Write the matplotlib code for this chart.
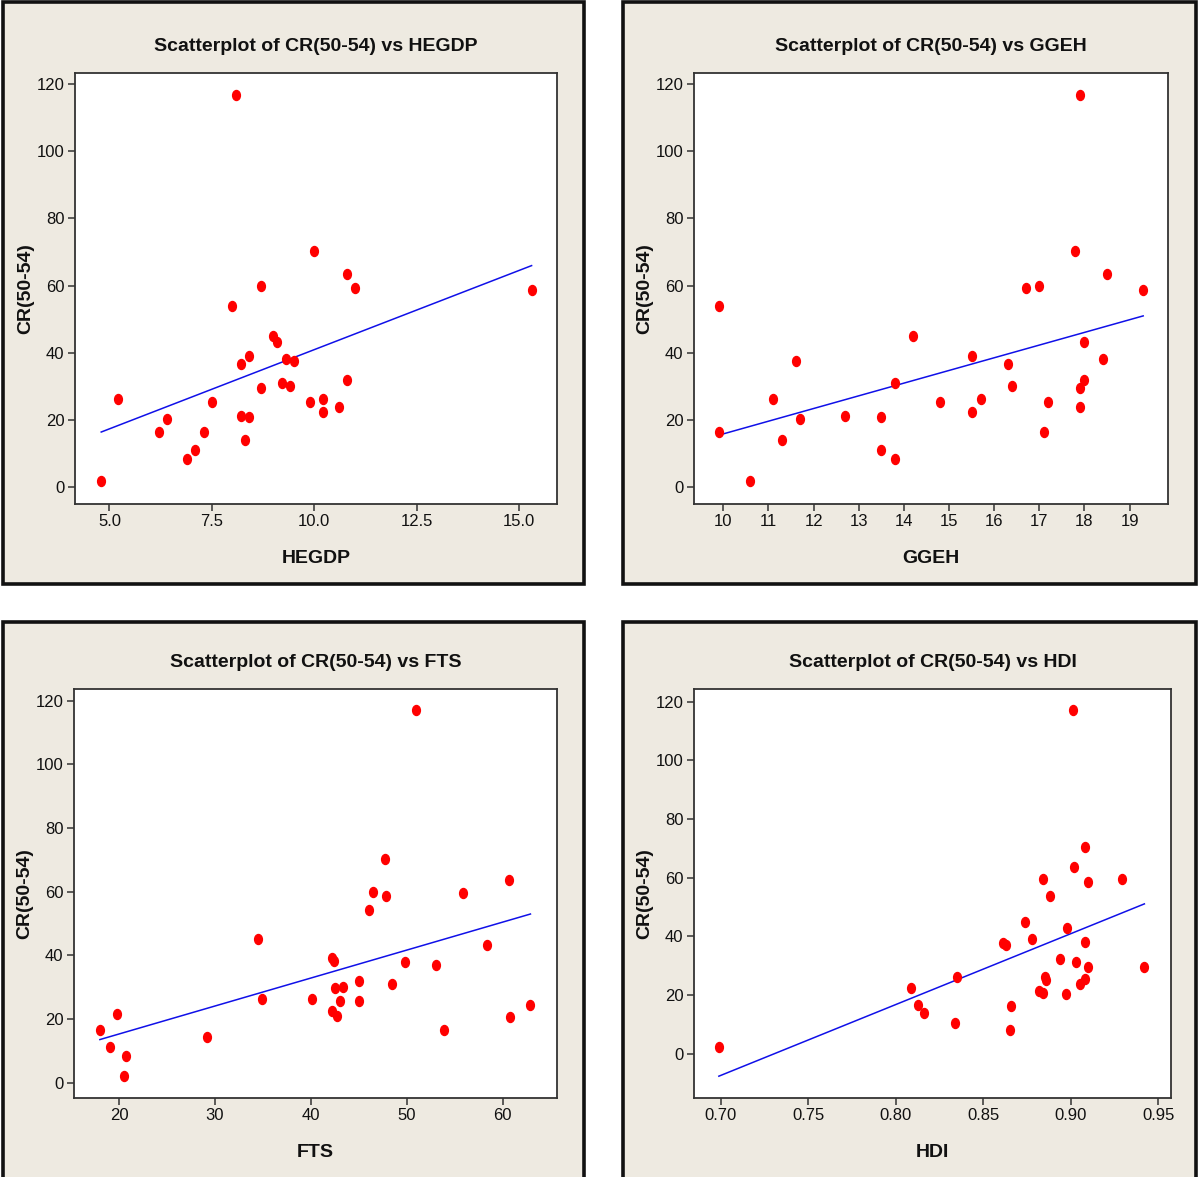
import numpy as np
import matplotlib
matplotlib.use("Agg")
import matplotlib.pyplot as plt
from matplotlib.patches import Rectangle
from matplotlib.path import Path
from matplotlib.transforms import Affine2D

plt.rcParams['font.family'] = ['Liberation Sans', 'DejaVu Sans']

# ---------------- data ----------------
hegdp_x = [8.1, 10.0, 10.8, 11.0, 15.3, 8.7, 8.0, 9.0, 9.1, 8.4, 8.2, 9.3, 9.5, 8.7, 9.2, 9.4,
           10.8, 5.2, 7.5, 9.9, 10.2, 10.2, 10.6, 8.2, 8.4, 6.4, 6.2, 7.3, 8.3, 7.1, 6.9, 4.8]
hegdp_y = [116.8, 70.4, 63.5, 59.3, 58.6, 59.9, 53.9, 45.1, 43.1, 39.1, 36.7, 38.2, 37.7, 29.5, 31.0, 30.0,
           31.8, 26.3, 25.5, 25.5, 26.3, 22.3, 24.0, 21.3, 20.8, 20.4, 16.5, 16.5, 14.1, 11.0, 8.3, 1.9]

ggeh_x = [17.9, 17.8, 18.5, 19.3, 16.7, 17.0, 9.9, 14.2, 18.0, 15.5, 11.6, 18.4, 16.3, 13.8, 16.4, 18.0,
          17.9, 11.1, 15.7, 14.8, 17.2, 15.5, 17.9, 12.7, 13.5, 11.7, 9.9, 17.1, 11.3, 13.5, 13.8, 10.6]
ggeh_y = [116.8, 70.4, 63.5, 58.6, 59.4, 59.9, 54.0, 45.0, 43.1, 39.1, 37.7, 38.1, 36.7, 31.0, 30.0, 31.8,
          29.5, 26.3, 26.3, 25.5, 25.5, 22.3, 24.0, 21.3, 20.9, 20.4, 16.5, 16.5, 14.1, 11.0, 8.3, 1.9]

fts_x = [51.0, 47.7, 60.7, 46.5, 47.8, 55.9, 46.1, 34.5, 58.4, 42.2, 42.4, 49.8, 53.1, 45.0, 48.5, 42.5,
         43.4, 34.9, 40.1, 43.0, 45.0, 62.9, 42.2, 42.7, 19.8, 60.8, 18.0, 53.9, 29.2, 19.1, 20.7, 20.5]
fts_y = [117.1, 70.4, 63.7, 60.0, 58.6, 59.6, 54.2, 45.1, 43.2, 39.3, 38.2, 37.8, 36.9, 31.9, 31.0, 29.7,
         30.1, 26.4, 26.4, 25.6, 25.6, 24.3, 22.6, 21.0, 21.5, 20.6, 16.6, 16.6, 14.3, 11.1, 8.4, 2.1]

hdi_x = [0.901, 0.908, 0.902, 0.884, 0.929, 0.910, 0.888, 0.874, 0.898, 0.878, 0.861, 0.863, 0.908, 0.894,
         0.903, 0.910, 0.942, 0.835, 0.885, 0.886, 0.908, 0.905, 0.809, 0.882, 0.884, 0.897, 0.813, 0.866,
         0.816, 0.834, 0.865, 0.699]
hdi_y = [117.2, 70.5, 63.6, 59.7, 59.7, 58.6, 53.7, 44.9, 42.9, 39.1, 37.7, 37.1, 38.0, 32.2,
         31.1, 29.7, 29.7, 26.3, 26.3, 25.2, 25.3, 23.8, 22.3, 21.4, 20.8, 20.4, 16.5, 16.4,
         13.9, 10.5, 8.1, 2.2]

y_ticks = [0, 20, 40, 60, 80, 100, 120]
hegdp_ticks = [5.0, 7.5, 10.0, 12.5, 15.0]
hegdp_ticklabels = ["5.0", "7.5", "10.0", "12.5", "15.0"]
ggeh_ticks = list(range(10, 20))
fts_ticks = [20, 30, 40, 50, 60]
hdi_ticks = [0.70, 0.75, 0.80, 0.85, 0.90, 0.95]
hdi_ticklabels = ["0.70", "0.75", "0.80", "0.85", "0.90", "0.95"]

panels = [
    dict(name="HEGDP", x=hegdp_x, y=hegdp_y, xt=hegdp_ticks, xtl=hegdp_ticklabels,
         xlim=(4.16, 15.92), ylim=(-5.0, 123.3), ax_px=(75, 73, 557, 504)),
    dict(name="GGEH", x=ggeh_x, y=ggeh_y, xt=ggeh_ticks, xtl=[str(t) for t in ggeh_ticks],
         xlim=(9.35, 19.85), ylim=(-5.0, 123.3), ax_px=(694, 73, 1168, 504)),
    dict(name="FTS", x=fts_x, y=fts_y, xt=fts_ticks, xtl=[str(t) for t in fts_ticks],
         xlim=(15.3, 65.67), ylim=(-4.8, 123.7), ax_px=(74, 689, 557, 1098)),
    dict(name="HDI", x=hdi_x, y=hdi_y, xt=hdi_ticks, xtl=hdi_ticklabels,
         xlim=(0.6848, 0.9572), ylim=(-15.1, 124.3), ax_px=(694, 689, 1171, 1098)),
]

# frame boxes (pixel coords of border centre lines): x0, y0, x1, y1
frames_px = [(2.5, 1.7, 584, 584.3), (623.3, 1.7, 1196, 584.3),
             (2.5, 622.3, 584, 1185), (623.3, 622.3, 1196, 1185)]

W, H = 1200, 1177
fig = plt.figure(figsize=(W / 100, H / 100), dpi=100, facecolor='white')

beige = '#EEEAE1'
for (x0, y0, x1, y1) in frames_px:
    r = Rectangle((x0 / W, 1 - y1 / H), (x1 - x0) / W, (y1 - y0) / H,
                  transform=fig.transFigure, facecolor=beige, edgecolor='#111111',
                  linewidth=2.6, zorder=0)
    fig.add_artist(r)

ellipse = Path.unit_circle().transformed(Affine2D().scale(0.78, 1.0))

for p in panels:
    l, t, r_, b = p['ax_px']
    ax = fig.add_axes([l / W, 1 - b / H, (r_ - l) / W, (b - t) / H])
    ax.set_facecolor('white')
    x = np.array(p['x'])
    y = np.array(p['y'])
    ax.plot(x, y, linestyle='none', marker=ellipse, markersize=7.2,
            markerfacecolor='#ff0000', markeredgecolor='#ff0000', zorder=3)
    slope, icpt = np.polyfit(x, y, 1)
    xs = np.array([x.min(), x.max()])
    ax.plot(xs, icpt + slope * xs, color='#1010e8', linewidth=1.1, zorder=2)
    ax.set_xlim(*p['xlim'])
    ax.set_ylim(*p['ylim'])
    ax.set_xticks(p['xt'])
    ax.set_xticklabels(p['xtl'])
    ax.set_yticks(y_ticks)
    ax.tick_params(direction='out', length=5, width=1.1, color='#333333',
                   labelsize=12, pad=2.5, labelcolor='#111111')
    for s in ax.spines.values():
        s.set_color('#333333')
        s.set_linewidth(1.3)
    ax.set_title(f"Scatterplot of CR(50-54) vs {p['name']}", fontsize=14,
                 fontweight='bold', pad=16, color='#111111')
    ax.set_xlabel(p['name'], fontsize=14, fontweight='bold', labelpad=15, color='#111111')
    ax.set_ylabel("CR(50-54)", fontsize=14, fontweight='bold', labelpad=1.5, color='#111111')

fig.savefig("out.png", dpi=100, facecolor='white')
